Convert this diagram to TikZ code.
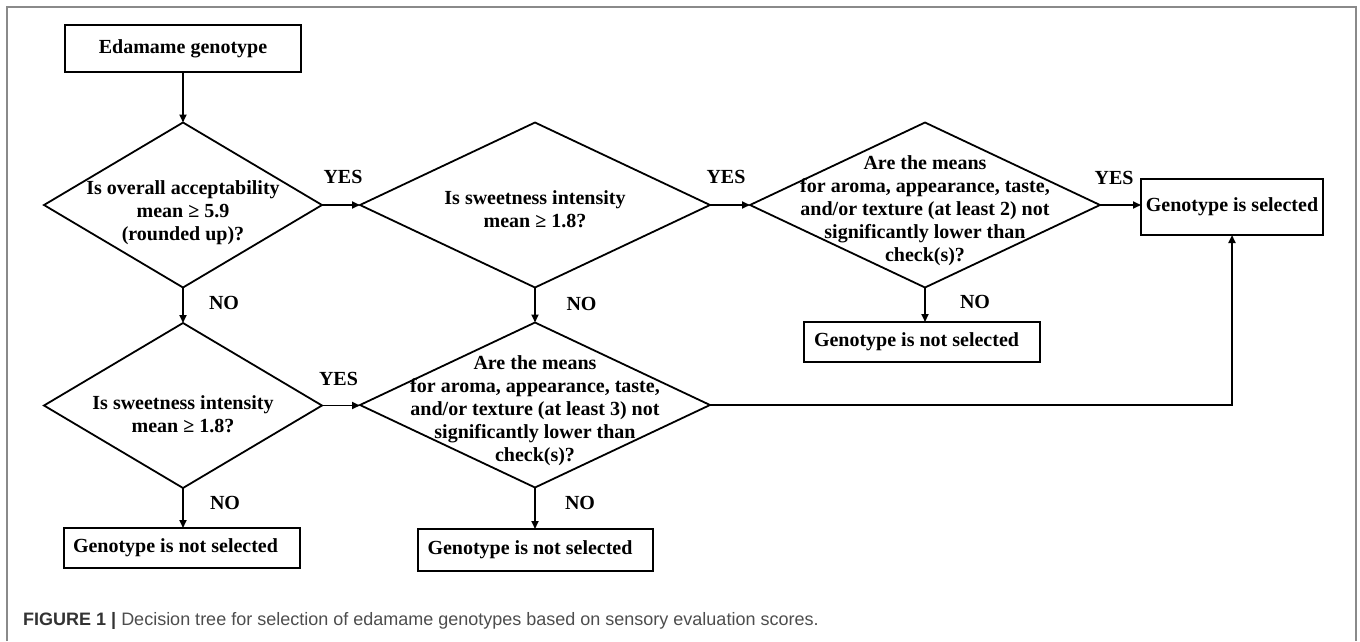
\documentclass[tikz,border=0pt]{standalone}
\usepackage{fontspec}
\setmainfont{Liberation Serif}
\setsansfont{Liberation Sans}
\usetikzlibrary{shapes.geometric,arrows.meta}
\definecolor{framegray}{HTML}{8A8A8A}
\definecolor{capdark}{HTML}{333333}
\definecolor{captext}{HTML}{4D4D4D}
\begin{document}
\begin{tikzpicture}[x=1pt,y=-1pt,
  every node/.style={font=\fontsize{20}{23}\selectfont\bfseries},
  box/.style={draw,line width=1.8pt,rectangle,inner sep=0pt,outer sep=0pt},
  dia/.style={draw,line width=1.8pt,diamond,inner sep=0pt,outer sep=0pt},
  conn/.style={line width=1.8pt,-{Triangle[length=8pt,width=7pt]}},
  lbl/.style={inner sep=0pt},
  qtext/.style={align=center,inner sep=0pt}]
\useasboundingbox (0,0) rectangle (1360,641);
% frame
\draw[framegray,line width=1.5pt] (7,641) -- (7,7) -- (1356,7) -- (1356,641);

% nodes
\node[box,minimum width=236pt,minimum height=47pt] (start) at (183,48.5) {Edamame genotype};

\node[dia,minimum width=278pt,minimum height=165pt] (d1) at (183,205) {};
\node[qtext] (d1t) at (183,212.5) {Is overall acceptability\\mean ≥ 5.9\\(rounded up)?};

\node[dia,minimum width=350pt,minimum height=165pt] (d2) at (535,205) {};
\node[qtext] (d2t) at (535,209) {Is sweetness intensity\\mean ≥ 1.8?};

\node[dia,minimum width=350pt,minimum height=165pt] (d3) at (925,205) {};
\node[qtext] (d3t) at (925,210.5) {Are the means\\for aroma, appearance, taste,\\and/or texture (at least 2) not\\significantly lower than\\check(s)?};

\node[box,minimum width=182pt,minimum height=56pt] (sel) at (1232,207) {Genotype is selected};

\node[box,minimum width=236pt,minimum height=40pt] (ns3) at (922,342) {Genotype is not selected\hspace*{11pt}};

\node[dia,minimum width=278pt,minimum height=165pt] (d4) at (183,405.5) {};
\node[qtext] (d4t) at (183,414) {Is sweetness intensity\\mean ≥ 1.8?};

\node[dia,minimum width=350pt,minimum height=165pt] (d5) at (535,405) {};
\node[qtext] (d5t) at (535,410.5) {Are the means\\for aroma, appearance, taste,\\and/or texture (at least 3) not\\significantly lower than\\check(s)?};

\node[box,minimum width=236pt,minimum height=40pt] (ns4) at (182,548) {Genotype is not selected\hspace*{13pt}};
\node[box,minimum width=235pt,minimum height=42pt] (ns5) at (535.5,550) {Genotype is not selected\hspace*{11pt}};

% labels
\node[lbl] (y1) at (343,177) {YES};
\node[lbl] (y2) at (726,177) {YES};
\node[lbl] (y3) at (1114,178) {YES};
\node[lbl] (y4) at (338.5,379) {YES};
\node[lbl] (n1) at (224,303) {NO};
\node[lbl] (n2) at (581.5,304) {NO};
\node[lbl] (n3) at (975,302) {NO};
\node[lbl] (n4) at (225,503) {NO};
\node[lbl] (n5) at (580,503) {NO};

% connectors
\draw[conn] (start) -- (d1);
\draw[conn] (d1) -- (d2);
\draw[conn] (d2) -- (d3);
\draw[conn] (d3.east) -- (sel.west |- d3.east);
\draw[conn] (d3.south) -- (d3.south |- ns3.north);
\draw[conn] (d1) -- (d4);
\draw[conn] (d2) -- (d5);
\draw[conn] (d4.east) -- (d5.west |- d4.east);
\draw[conn] (d4.south) -- (d4.south |- ns4.north);
\draw[conn] (d5.south) -- (d5.south |- ns5.north);
\draw[conn] (d5.east) -| (sel.south);

% caption
\node[anchor=base west,inner sep=0pt,font=\sffamily\fontsize{18}{21}\selectfont] (cap) at (23,625)
  {\textcolor{capdark}{\bfseries FIGURE 1 |} \textcolor{captext}{Decision tree for selection of edamame genotypes based on sensory evaluation scores.}};
\end{tikzpicture}
\end{document}
